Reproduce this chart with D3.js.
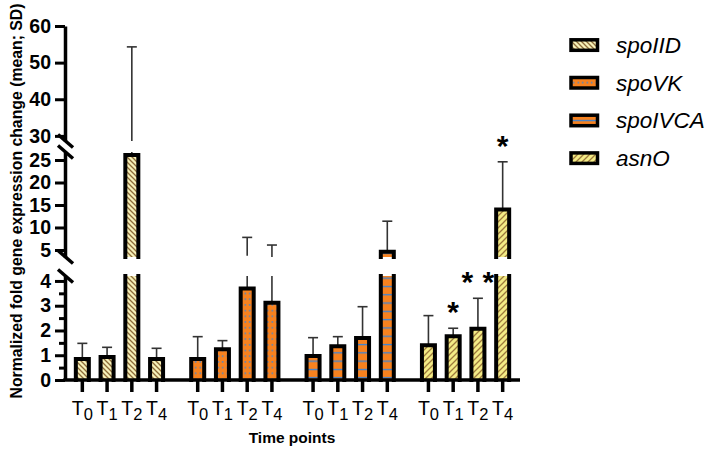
<!DOCTYPE html>
<html>
<head>
<meta charset="utf-8">
<script src="https://cdn.jsdelivr.net/npm/d3@7"></script>
<style>
body { margin: 0; background: #fff; }
svg { display: block; font-family: "Liberation Sans", Arial, sans-serif; }
</style>
</head>
<body>
<script>
// genes (groups) and time points
var genes = ["spoIID", "spoVK", "spoIVCA", "asnO"];
var timePoints = ["0", "1", "2", "4"];

// means and SD
var spoIIDMean = [0.85, 0.93, 26.1, 0.85];
var spoIIDSD = [0.63, 0.39, 28.2, 0.43];
var spoVKMean = [0.85, 1.24, 3.7, 3.12];
var spoVKSD = [0.9, 0.35, 4.1, 2.98];
var spoIVCAMean = [0.97, 1.36, 1.7, 4.6];
var spoIVCASD = [0.74, 0.39, 1.26, 6.8];
var asnOMean = [1.4, 1.77, 2.07, 14.0];
var asnOSD = [1.2, 0.32, 1.23, 10.6];
var asnOStars = ["", "*", "**", "*"];

// y ticks for the three axis pieces
var yTicksBottom = [0, 1, 2, 3, 4];
var yMinorBottom = [0.5, 1.5, 2.5, 3.5];
var yTicksMiddle = [5, 10, 15, 20, 25];
var yTicksTop = [30, 40, 50, 60];

var width = 709, height = 453;
var axisX = 65, axisEnd = 520, baseY = 380;

var svg = d3.select("body").append("svg")
  .attr("width", width)
  .attr("height", height);

// patterns
var defs = svg.append("defs");

function hatch(id, bg, col, s, back) {
  var p = defs.append("pattern").attr("id", id)
    .attr("patternUnits", "userSpaceOnUse")
    .attr("width", s).attr("height", s);
  p.append("rect").attr("width", s).attr("height", s).attr("fill", bg);
  var d = back
    ? "M0,0L" + s + "," + s + "M-1," + (s - 1) + "L1," + (s + 1) + "M" + (s - 1) + ",-1L" + (s + 1) + ",1"
    : "M0," + s + "L" + s + ",0M-1,1L1,-1M" + (s - 1) + "," + (s + 1) + "L" + (s + 1) + "," + (s - 1);
  p.append("path").attr("d", d).attr("stroke", col).attr("stroke-width", 1.3);
}
hatch("pat-spoIID", "#f6f1b9", "#8e6c3a", 5, true);
hatch("pat-asnO", "#f3eb86", "#9d7a3c", 6, false);

var dots = defs.append("pattern").attr("id", "pat-spoVK")
  .attr("patternUnits", "userSpaceOnUse")
  .attr("width", 4.5).attr("height", 5.7);
dots.append("rect").attr("width", 4.5).attr("height", 5.7).attr("fill", "#f7821f");
dots.append("circle").attr("cx", 2.25).attr("cy", 2.8).attr("r", 0.85).attr("fill", "#3f86d6");

var lines = defs.append("pattern").attr("id", "pat-spoIVCA")
  .attr("patternUnits", "userSpaceOnUse")
  .attr("width", 10).attr("height", 8.3);
lines.append("rect").attr("width", 10).attr("height", 8.3).attr("fill", "#f7821f");
lines.append("rect").attr("y", 3.6).attr("width", 10).attr("height", 1.3).attr("fill", "#3a84d8");

// scales, one per axis piece
var segments = [
  {domain: [0, 4.2], range: [baseY, 276], ticks: yTicksBottom},
  {domain: [3.44, 26.78], range: [257, 152], ticks: yTicksMiddle},
  {domain: [28.6, 60], range: [141, 26], ticks: yTicksTop}
];
segments.forEach(function(s) {
  s.scale = d3.scaleLinear().domain(s.domain).range(s.range);
});

var xGroup = d3.scaleBand().domain(genes)
  .range([axisX, axisEnd])
  .paddingInner(0.142).paddingOuter(0.043);
var xTime = d3.scaleBand().domain(timePoints)
  .range([0, xGroup.bandwidth()]);

var allMeans = [spoIIDMean, spoVKMean, spoIVCAMean, asnOMean];
var allSD = [spoIIDSD, spoVKSD, spoIVCASD, asnOSD];

var bars = [];
genes.forEach(function(g, gi) {
  timePoints.forEach(function(t, ti) {
    bars.push({
      gene: g, time: t,
      mean: allMeans[gi][ti],
      top: allMeans[gi][ti] + allSD[gi][ti],
      star: g === "asnO" ? asnOStars[ti] : "",
      cx: xGroup(g) + xTime(t) + xTime.bandwidth() / 2
    });
  });
});

var bw = 13;

// error bars
var errG = svg.append("g");
segments.forEach(function(seg, si) {
  var s = seg.scale;
  var lower = si === 0 ? 0 : segments[si - 1].domain[1];
  bars.forEach(function(d) {
    if (d.top <= lower) return;
    if (d.mean >= seg.domain[1]) return;
    var a = Math.max(d.mean, si === 0 ? 0 : seg.domain[0]);
    var b = Math.min(d.top, seg.domain[1]);
    errG.append("line")
      .attr("x1", d.cx).attr("x2", d.cx)
      .attr("y1", s(a)).attr("y2", s(b))
      .attr("stroke", "#333").attr("stroke-width", 1.6);
    if (d.top <= seg.domain[1]) {
      errG.append("line")
        .attr("x1", d.cx - 5).attr("x2", d.cx + 5)
        .attr("y1", s(d.top)).attr("y2", s(d.top))
        .attr("stroke", "#333").attr("stroke-width", 1.6);
    }
  });
});

// bars, cut at each axis break
var barG = svg.append("g");
segments.forEach(function(seg, si) {
  var s = seg.scale;
  var lower = si === 0 ? 0 : segments[si - 1].domain[1];
  bars.forEach(function(d) {
    if (si > 0 && d.mean <= lower) return;
    var v0 = si === 0 ? 0 : seg.domain[0];
    var v1 = Math.min(d.mean, seg.domain[1]);
    var y0 = s(v0), y1 = s(v1);
    var xl = d.cx - bw / 2, xr = d.cx + bw / 2;
    barG.append("rect")
      .attr("x", xl).attr("y", y1)
      .attr("width", bw).attr("height", y0 - y1)
      .attr("fill", "url(#pat-" + d.gene + ")");
    var closed = d.mean <= seg.domain[1];
    var p = "M" + xl + "," + y0 + "V" + y1 +
      (closed ? "H" + xr : "M" + xr + "," + y1) + "V" + y0;
    barG.append("path").attr("d", p)
      .attr("fill", "none").attr("stroke", "#000")
      .attr("stroke-width", 4).attr("stroke-linecap", "square");
  });
});

// stars
bars.filter(function(d) { return d.star; }).forEach(function(d) {
  var seg = segments.filter(function(s) { return d.top <= s.domain[1]; })[0];
  var cy = seg.scale(d.top) - 23;
  var n = d.star.length;
  for (var i = 0; i < n; i++) {
    svg.append("text")
      .attr("x", d.cx + (i - (n - 1) / 2) * 21)
      .attr("y", cy + 17)
      .attr("text-anchor", "middle")
      .attr("font-size", 30).attr("font-weight", "bold")
      .text("*");
  }
});

// y axis pieces
segments.forEach(function(seg, si) {
  var ax = svg.append("g")
    .attr("transform", "translate(" + axisX + ",0)")
    .call(d3.axisLeft(seg.scale).tickValues(seg.ticks).tickFormat(d3.format("d"))
      .tickSize(10).tickSizeOuter(0).tickPadding(4));
  ax.select(".domain").attr("stroke-width", 3.5);
  ax.selectAll(".tick line").attr("stroke-width", 3);
  ax.selectAll(".tick text")
    .attr("font-family", "Liberation Sans, Arial, sans-serif")
    .attr("font-size", 19.5).attr("font-weight", "bold").attr("fill", "#000");
});
var minor = svg.append("g")
  .attr("transform", "translate(" + axisX + ",0)")
  .call(d3.axisLeft(segments[0].scale).tickValues(yMinorBottom).tickSize(6).tickFormat(""));
minor.select(".domain").remove();
minor.selectAll(".tick line").attr("stroke-width", 3);

// break marks
[segments[0].range[1], segments[1].range[0], segments[1].range[1], segments[2].range[0]].forEach(function(y) {
  svg.append("line")
    .attr("x1", axisX - 7).attr("y1", y - 6.5)
    .attr("x2", axisX + 8).attr("y2", y + 6.5)
    .attr("stroke", "#000").attr("stroke-width", 3.5);
});

// x axis
svg.append("line")
  .attr("x1", axisX - 1.75).attr("x2", axisEnd)
  .attr("y1", baseY).attr("y2", baseY)
  .attr("stroke", "#000").attr("stroke-width", 3.5);

genes.forEach(function(g) {
  var ax = svg.append("g")
    .attr("transform", "translate(" + xGroup(g) + "," + baseY + ")")
    .call(d3.axisBottom(xTime).tickSize(12).tickSizeOuter(0));
  ax.select(".domain").remove();
  ax.selectAll(".tick line").attr("stroke-width", 3.5);
  ax.selectAll(".tick text").each(function(t) {
    var el = d3.select(this).text("")
      .attr("y", 35).attr("dy", null)
      .attr("font-family", "Liberation Sans, Arial, sans-serif")
      .attr("fill", "#000");
    el.append("tspan").attr("font-size", 19.5).text("T");
    el.append("tspan").attr("font-size", 16.5).attr("dy", 5).text(t);
  });
});

// axis titles
svg.append("text")
  .attr("x", 292).attr("y", 443)
  .attr("text-anchor", "middle")
  .attr("font-size", 15.5).attr("font-weight", "bold")
  .text("Time points");

svg.append("text")
  .attr("transform", "translate(22,201) rotate(-90)")
  .attr("text-anchor", "middle")
  .attr("font-size", 15.8).attr("font-weight", "bold")
  .text("Normalized fold gene expression change (mean; SD)");

// legend
var legend = svg.append("g");
genes.forEach(function(g, i) {
  var by = 53 + i * 37.7;
  legend.append("rect")
    .attr("x", 571).attr("y", by - 13.2)
    .attr("width", 26.5).attr("height", 10.5)
    .attr("fill", "url(#pat-" + g + ")")
    .attr("stroke", "#000").attr("stroke-width", 3.5);
  legend.append("text")
    .attr("x", 616).attr("y", by)
    .attr("font-size", 22.5).attr("font-style", "italic")
    .text(g);
});
</script>
</body>
</html>
